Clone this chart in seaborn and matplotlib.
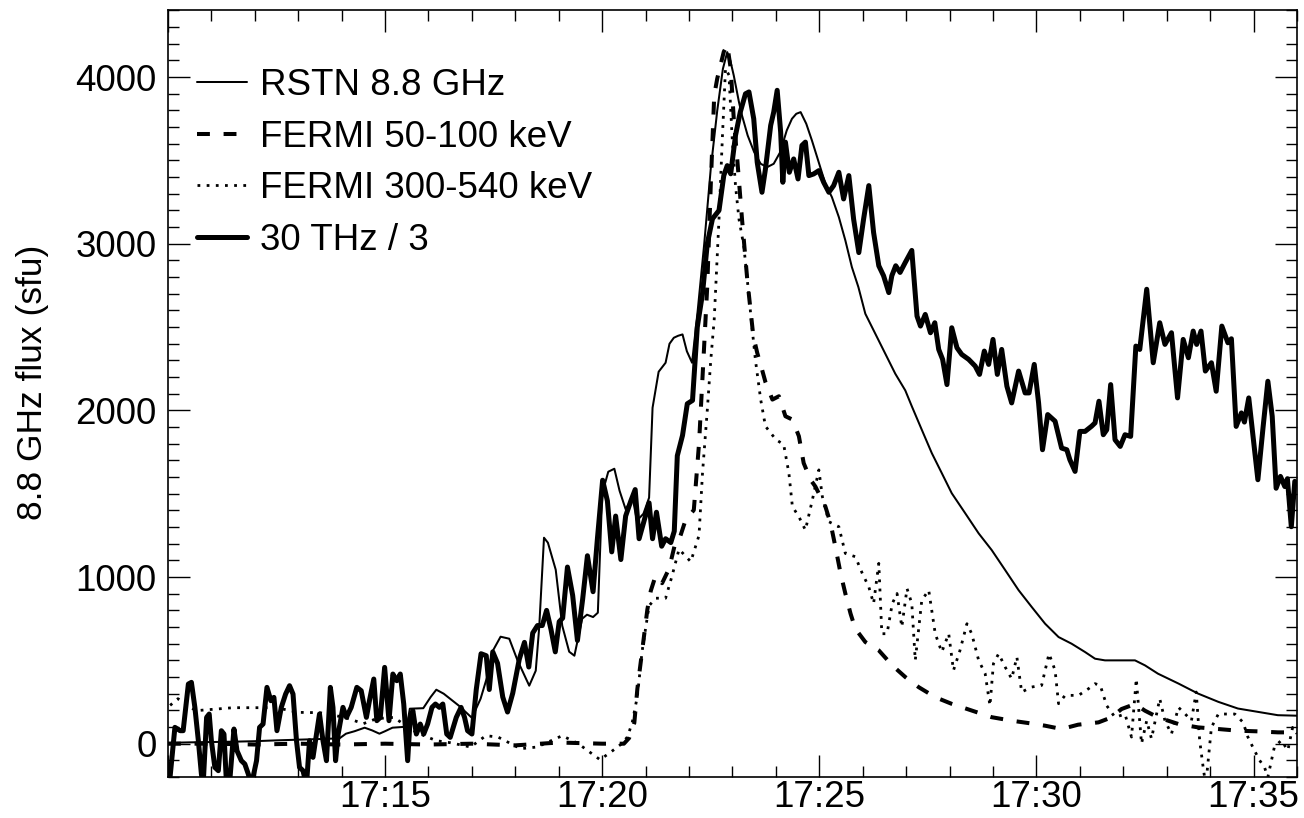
import numpy as np
import pandas as pd
import matplotlib
matplotlib.use("Agg")
import matplotlib.pyplot as plt
from matplotlib.ticker import MultipleLocator, FuncFormatter
import seaborn as sns

sns.set_theme(style="ticks")
plt.rcParams['font.family'] = ['Liberation Sans', 'DejaVu Sans']
plt.rcParams['text.color'] = 'black'
plt.rcParams['axes.labelcolor'] = 'black'

# time in minutes after 17:00 UT, fluxes in sfu
# 30 THz / 3
thz_t = [10.03, 10.16, 10.28, 10.35, 10.47, 10.54, 10.62, 10.70, 10.77, 10.81, 10.89, 10.95,
         11.00, 11.08, 11.16, 11.23, 11.29, 11.35, 11.43, 11.52, 11.59, 11.69, 11.77, 11.85,
         11.92, 12.04, 12.11, 12.19, 12.28, 12.37, 12.44, 12.51, 12.61, 12.71, 12.80, 12.88,
         12.96, 13.03, 13.11, 13.19, 13.26, 13.34, 13.42, 13.49, 13.57, 13.65, 13.74, 13.80,
         13.86, 13.92, 14.03, 14.11, 14.22, 14.35, 14.45, 14.57, 14.64, 14.74, 14.81, 14.89,
         14.99, 15.09, 15.18, 15.27, 15.35, 15.43, 15.52, 15.58, 15.64, 15.72, 15.81, 15.89,
         15.98, 16.08, 16.16, 16.25, 16.33, 16.42, 16.50, 16.64, 16.75, 16.83, 16.90, 17.00,
         17.10, 17.21, 17.33, 17.40, 17.48, 17.59, 17.71, 17.82, 17.94, 18.09, 18.21, 18.31,
         18.40, 18.51, 18.62, 18.72, 18.82, 18.92, 19.01, 19.09, 19.20, 19.32, 19.43, 19.55,
         19.66, 19.79, 19.89, 20.01, 20.12, 20.22, 20.31, 20.43, 20.54, 20.66, 20.76, 20.85,
         20.97, 21.08, 21.16, 21.25, 21.37, 21.46, 21.58, 21.66, 21.73, 21.85, 21.96, 22.08,
         22.19, 22.31, 22.42, 22.54, 22.69, 22.80, 22.88, 22.96, 23.07, 23.18, 23.30, 23.38,
         23.49, 23.57, 23.68, 23.76, 23.88, 23.95, 24.03, 24.11, 24.16, 24.22, 24.31, 24.41,
         24.51, 24.60, 24.68, 24.76, 24.87, 24.99, 25.10, 25.22, 25.33, 25.45, 25.56, 25.68,
         25.79, 25.91, 26.02, 26.14, 26.25, 26.37, 26.48, 26.60, 26.67, 26.76, 26.86, 26.98,
         27.13, 27.25, 27.33, 27.44, 27.56, 27.66, 27.75, 27.84, 27.94, 28.05, 28.17, 28.28,
         28.44, 28.59, 28.69, 28.80, 28.90, 29.00, 29.10, 29.20, 29.32, 29.43, 29.59, 29.74,
         29.83, 29.95, 30.05, 30.14, 30.26, 30.43, 30.58, 30.70, 30.77, 30.89, 31.00, 31.12,
         31.27, 31.35, 31.44, 31.54, 31.62, 31.71, 31.81, 31.93, 32.04, 32.17, 32.29, 32.38,
         32.54, 32.69, 32.84, 32.96, 33.11, 33.25, 33.38, 33.50, 33.61, 33.69, 33.79, 33.89,
         34.03, 34.14, 34.27, 34.41, 34.49, 34.60, 34.72, 34.79, 34.89, 34.99, 35.10, 35.22,
         35.33, 35.43, 35.52, 35.62, 35.72, 35.78, 35.87, 35.95]
thz_v = [-250, 98, 78, 78, 358, 368, 218, 18, -182, -250, 158, 178,
         18, -142, -162, 78, 58, -250, -202, 88, -42, -102, -122, -182,
         -250, -102, 98, 118, 338, 258, 278, 78, 218, 298, 348, 298,
         18, -142, -162, -250, 18, -82, 58, 178, 18, -102, 338, 218,
         -102, 58, 218, 158, 218, 338, 318, 158, 258, 388, 138, 158,
         458, 138, 418, 378, 418, 238, -102, 158, 198, 58, 118, 58,
         118, 218, 238, 218, 238, 58, 38, 158, 218, 158, 78, 58,
         325, 540, 528, 325, 551, 483, 280, 190, 303, 506, 608, 460,
         664, 709, 709, 800, 687, 551, 732, 754, 1060, 890, 619, 867,
         1128, 912, 1230, 1581, 1457, 1151, 1366, 1105, 1366, 1457, 1525, 1230,
         1343, 1445, 1230, 1389, 1185, 1230, 1207, 1275, 1728, 1850, 2040, 2060,
         2500, 2700, 3000, 3150, 3200, 3409, 3469, 3420, 3650, 3790, 3900, 3911,
         3750, 3489, 3309, 3449, 3710, 3790, 3921, 3670, 3369, 3610, 3429, 3509,
         3389, 3590, 3610, 3409, 3419, 3439, 3369, 3309, 3349, 3429, 3269, 3409,
         3148, 2947, 3148, 3349, 3068, 2868, 2808, 2707, 2808, 2868, 2828, 2888,
         2960, 2566, 2506, 2576, 2466, 2526, 2366, 2306, 2155, 2496, 2376, 2336,
         2306, 2266, 2216, 2356, 2276, 2426, 2216, 2366, 2145, 2045, 2236, 2105,
         2105, 2276, 2045, 1764, 1975, 1935, 1774, 1764, 1704, 1634, 1874, 1874,
         1905, 1925, 2055, 1854, 1884, 2155, 1824, 1784, 1854, 1844, 2386, 2366,
         2727, 2286, 2526, 2396, 2466, 2075, 2426, 2316, 2476, 2396, 2476, 2236,
         2286, 2115, 2506, 2406, 2430, 1904, 1985, 1930, 2075, 1844, 1584, 1900,
         2175, 1965, 1533, 1604, 1543, 1590, 1302, 1574]

# RSTN 8.8 GHz
rstn_t = [10.0, 10.5, 11.0, 11.5, 12.0, 12.5, 13.0, 13.5, 13.95, 14.1, 14.3, 14.53,
          14.7, 14.87, 15.0, 15.17, 15.5, 15.57, 15.88, 16.05, 16.18, 16.35, 16.7, 17.0,
          17.2, 17.35, 17.47, 17.66, 17.86, 18.05, 18.32, 18.47, 18.55, 18.66, 18.75, 18.93,
          19.08, 19.24, 19.36, 19.54, 19.65, 19.79, 19.9, 20.0, 20.14, 20.28, 20.4, 20.54,
          20.7, 20.8, 20.95, 21.08, 21.16, 21.3, 21.46, 21.55, 21.65, 21.75, 21.85, 21.95,
          22.07, 22.2, 22.35, 22.5, 22.65, 22.78, 22.88, 22.95, 23.03, 23.15, 23.22, 23.35,
          23.5, 23.65, 23.8, 23.95, 24.1, 24.25, 24.37, 24.47, 24.57, 24.7, 24.83, 24.95,
          25.14, 25.29, 25.45, 25.6, 25.75, 25.9, 26.06, 26.29, 26.52, 26.75, 26.98, 27.13,
          27.36, 27.59, 27.82, 28.05, 28.36, 28.67, 28.97, 29.28, 29.59, 29.89, 30.2, 30.51,
          30.81, 31.12, 31.35, 31.58, 31.96, 32.27, 32.5, 32.8, 33.27, 33.72, 34.19, 34.64,
          35.1, 35.56, 36.0]
rstn_v = [5, 8, 10, 12, 15, 20, 24, 28, 32, 60, 75, 96,
          80, 60, 75, 96, 102, 210, 213, 280, 324, 300, 228, 155,
          270, 400, 552, 642, 630, 500, 348, 438, 700, 1236, 1206, 1044,
          708, 552, 528, 750, 774, 760, 786, 1500, 1632, 1650, 1518, 1407,
          1476, 1338, 1380, 1476, 2016, 2232, 2286, 2400, 2436, 2448, 2456, 2355,
          2286, 2600, 3000, 3450, 3800, 4050, 4150, 4100, 4010, 3850, 3770, 3650,
          3550, 3480, 3460, 3480, 3550, 3680, 3750, 3780, 3790, 3720, 3620, 3520,
          3360, 3280, 3160, 3020, 2860, 2740, 2580, 2460, 2340, 2220, 2120, 2025,
          1884, 1744, 1624, 1503, 1383, 1262, 1162, 1042, 921, 821, 720, 640,
          600, 550, 510, 500, 500, 500, 470, 420, 361, 301, 251, 211,
          191, 171, 168]

# FERMI 50-100 keV
hxr_t = [10.0, 11.0, 12.0, 13.0, 14.0, 15.0, 16.0, 17.0, 18.0, 19.0, 20.0, 20.5,
         20.62, 20.74, 20.81, 20.92, 21.04, 21.12, 21.23, 21.38, 21.54, 21.69, 21.77, 21.92,
         22.11, 22.23, 22.34, 22.42, 22.5, 22.58, 22.65, 22.8, 22.88, 22.96, 23.03, 23.11,
         23.22, 23.34, 23.48, 23.57, 23.68, 23.76, 23.92, 24.07, 24.22, 24.38, 24.53, 24.64,
         24.8, 24.91, 25.14, 25.26, 25.37, 25.49, 25.6, 25.72, 25.83, 26.06, 26.37, 26.68,
         26.98, 27.29, 27.67, 28.05, 28.51, 28.97, 29.43, 29.81, 30.2, 30.58, 30.96, 31.43,
         31.73, 31.96, 32.27, 32.5, 32.8, 33.27, 33.72, 34.19, 34.64, 35.1, 35.56, 36.0]
hxr_v = [0, 0, -5, 0, -5, 0, -5, 0, -10, 7, 0, 0,
         34, 125, 329, 556, 805, 918, 1008, 963, 1050, 1212, 1222, 1342,
         1402, 1800, 2346, 2747, 3349, 3891, 3992, 4152, 4192, 4052, 3750, 3509,
         3148, 2788, 2447, 2346, 2246, 2170, 2065, 2085, 1965, 1945, 1845, 1684,
         1583, 1543, 1423, 1322, 1182, 1022, 901, 780, 690, 610, 560, 470,
         400, 339, 279, 239, 199, 159, 138, 124, 108, 88, 114, 128,
         158, 208, 238, 198, 158, 118, 98, 88, 78, 74, 68, 68]

# FERMI 300-540 keV
gam_t = [10.05, 10.23, 10.64, 11.5, 12.5, 13.0, 13.5, 14.07, 14.5, 14.8, 15.2, 15.65,
         15.9, 16.18, 16.5, 16.97, 17.32, 17.6, 18.12, 18.5, 19.08, 19.45, 19.95, 20.2,
         20.45, 20.58, 20.69, 20.81, 20.92, 21.08, 21.23, 21.46, 21.61, 21.77, 22.04, 22.23,
         22.31, 22.42, 22.5, 22.58, 22.69, 22.77, 22.84, 22.92, 22.99, 23.07, 23.15, 23.26,
         23.34, 23.45, 23.53, 23.65, 23.76, 23.88, 24.0, 24.18, 24.3, 24.38, 24.53, 24.68,
         24.84, 24.99, 25.07, 25.22, 25.45, 25.6, 25.83, 25.99, 26.14, 26.25, 26.37, 26.44,
         26.56, 26.68, 26.79, 26.9, 27.02, 27.13, 27.21, 27.36, 27.52, 27.67, 27.82, 27.98,
         28.09, 28.24, 28.4, 28.51, 28.67, 28.82, 28.93, 29.01, 29.13, 29.28, 29.43, 29.55,
         29.66, 29.89, 30.12, 30.29, 30.43, 30.51, 30.66, 30.97, 31.2, 31.35, 31.47, 31.62,
         31.81, 32.04, 32.19, 32.3, 32.42, 32.54, 32.65, 32.84, 32.96, 33.11, 33.27, 33.42,
         33.57, 33.68, 33.76, 33.84, 33.9, 34.03, 34.19, 34.38, 34.57, 34.76, 34.87, 35.02,
         35.14, 35.25, 35.33, 35.48, 35.64, 35.79, 35.9, 36.0]
gam_v = [230, 270, 198, 216, 216, 188, 186, 158, 120, 150, 158, 78,
         48, 18, 6, -20, 48, 40, -30, -20, 48, 0, -96, -50,
         0, 40, 125, 284, 556, 828, 873, 873, 1008, 1167, 1092, 1250,
         1623, 2000, 2300, 2547, 3148, 3650, 4052, 4012, 3650, 3349, 3148, 2988,
         2788, 2500, 2300, 2065, 1905, 1865, 1825, 1795, 1623, 1423, 1362, 1282,
         1463, 1643, 1483, 1332, 1302, 1142, 1122, 1022, 941, 841, 1082, 660,
         660, 841, 901, 700, 931, 841, 500, 861, 921, 660, 550, 660,
         440, 560, 720, 660, 500, 420, 228, 480, 540, 460, 390, 520,
         310, 340, 350, 540, 440, 240, 290, 290, 330, 360, 350, 228,
         158, 178, 40, 390, 0, 138, 30, 270, 138, 58, 218, 180,
         138, 310, 18, -142, -250, 98, 178, 178, 178, 128, 40, -40,
         -100, -140, -200, -20, 20, -40, 98, 60]

fig = plt.figure(figsize=(13.04, 8.18), dpi=100)
ax = fig.add_axes([0.1288, 0.0501, 0.8658, 0.9371])

sns.lineplot(x=rstn_t, y=rstn_v, ax=ax, color='black', lw=1.45, sort=False,
             estimator=None, label='RSTN 8.8 GHz')
sns.lineplot(x=hxr_t, y=hxr_v, ax=ax, color='black', lw=2.9, sort=False,
             estimator=None, label='FERMI 50-100 keV', linestyle=(0, (3.2, 3.4)))
sns.lineplot(x=gam_t, y=gam_v, ax=ax, color='black', lw=2.0, sort=False,
             estimator=None, label='FERMI 300-540 keV', linestyle=(0, (1, 2.3)))
sns.lineplot(x=thz_t, y=thz_v, ax=ax, color='black', lw=3.6, sort=False,
             estimator=None, label='30 THz / 3')


def time_label(m, pos):
    # the left edge (17:10) carries no label
    if m < 12:
        return ''
    return '17:%02d' % int(round(m))


ax.set_xlim(10, 36)
ax.set_ylim(-200, 4400)
ax.xaxis.set_major_locator(MultipleLocator(5))
ax.xaxis.set_minor_locator(MultipleLocator(1))
ax.yaxis.set_major_locator(MultipleLocator(1000))
ax.yaxis.set_minor_locator(MultipleLocator(100))
ax.xaxis.set_major_formatter(FuncFormatter(time_label))
ax.tick_params(which='both', direction='in', top=True, right=True, width=1.0,
               color='black', labelsize=26.5, labelcolor='black')
ax.tick_params(which='major', length=15.8)
ax.tick_params(which='minor', length=7.9)
ax.tick_params(axis='y', which='major', pad=8)
ax.tick_params(axis='x', which='major', pad=2)
for s in ax.spines.values():
    s.set_linewidth(1.2)
    s.set_color('black')

ax.set_xlabel('')
ax.set_ylabel('8.8 GHz flux (sfu)', fontsize=25.5, color='black')
ax.yaxis.label.set_va('center')
ax.yaxis.set_label_coords(-0.1196, 0.515)

leg = ax.legend(loc='upper left', bbox_to_anchor=(0.026, 0.925), frameon=False,
                fontsize=26.5, handlelength=1.36, handletextpad=0.35,
                labelspacing=0.45, borderaxespad=0, borderpad=0)

fig.savefig('out.png', dpi=100)
